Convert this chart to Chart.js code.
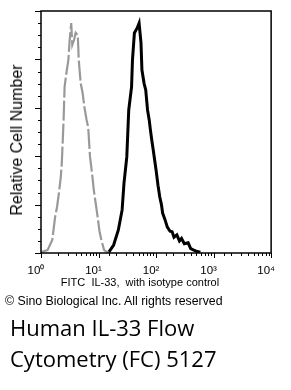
<!DOCTYPE html>
<html lang="en">
<head>
    <meta charset="UTF-8">
    <title>Human IL-33 Flow Cytometry</title>
    <style>
        body { margin: 0; background: #fff; width: 291px; height: 390px; position: relative; overflow: hidden; }
        #wrap { position: absolute; left: 0; top: 0; width: 291px; height: 292px; }
        .txt { position: absolute; font-family: Arial, 'Liberation Sans', sans-serif; color: #000; white-space: nowrap; }
        #ytitle { font-size: 16px; left: 17px; top: 140px; transform: translate(-50%, -50%) rotate(-90deg); }
        #xtitle { font-size: 11px; left: 140px; top: 282px; transform: translate(-50%, -50%); }
        #copy { font-size: 12.3px; left: 5px; top: 294px; color: #000; }
        #title { position: absolute; left: 10px; top: 312px; font-family: 'Open Sans', sans-serif; font-size: 22px; line-height: 31px; color: #000; white-space: nowrap; }
    </style>
</head>
<body>
<div id="wrap"><canvas id="myChart" width="291" height="292"></canvas></div>
<div class="txt" id="ytitle">Relative Cell Number</div>
<div class="txt" id="xtitle">FITC&nbsp; IL-33,&nbsp; with isotype control</div>
<div class="txt" id="copy">© Sino Biological Inc. All rights reserved</div>
<div id="title">Human IL-33 Flow<br>Cytometry (FC) 5127</div>

<script src="https://cdn.jsdelivr.net/npm/chart.js"></script>
<script>
    // isotype control (grey)
    const isoX = [1.0, 1.3, 1.57, 1.76, 1.9, 2.05, 2.2, 2.3, 2.47, 2.57, 2.75, 2.99, 3.15, 3.35, 3.5, 3.75, 4.0, 4.36, 4.53, 4.89, 5.3, 5.68, 6.2, 6.61, 7.11, 7.7, 8.28, 9.0, 9.64, 10.4, 11.2, 12.5, 15.1];
    const isoY = [0.4, 1.2, 5.4, 14.9, 19, 24.8, 31, 37.2, 55, 68.6, 74, 79.8, 88, 95, 86, 88, 91, 90, 79.8, 70.2, 66, 60.3, 55, 52, 39.7, 33, 26, 20, 14.9, 9, 5.4, 1.2, 0];

    // IL-33 stained (black)
    const il33X = [15.1, 18.3, 22.1, 25.7, 27.7, 31.0, 33.5, 37.5, 38.9, 42.0, 47.0, 50.7, 54.7, 56.8, 62, 66.1, 71.1, 76, 79.8, 85, 89.3, 95, 100, 108, 116, 124, 130, 142, 157, 175, 190, 205, 230, 255, 277, 310, 361, 400, 453, 520, 589];
    const il33Y = [0.4, 3.3, 9.5, 17.8, 28.9, 39.7, 59.1, 68.6, 79.8, 90.9, 93, 95, 86.8, 75.6, 70, 67.4, 59.1, 55, 50.8, 46, 42.6, 38, 34.3, 28, 23.1, 20, 16.5, 14, 10.7, 9, 8.8, 6.5, 7.5, 5, 6, 3.8, 4.2, 1.8, 1.2, 0.6, 0.3];

    const xTickLabels = ['10⁰', '10¹', '10²', '10³', '10⁴'];

    function pts(xs, ys) {
        return xs.map((x, i) => ({ x: x, y: ys[i] }));
    }

    // frame + tick marks (ticks point outward, majors longer)
    const framePlugin = {
        id: 'frame',
        afterDatasetsDraw(chart) {
            const ctx = chart.ctx;
            const a = chart.chartArea;
            const xs = chart.scales.x, ys = chart.scales.y;
            ctx.save();
            ctx.strokeStyle = '#000';
            ctx.lineWidth = 1.5;
            ctx.strokeRect(a.left, a.top, a.right - a.left, a.bottom - a.top);
            ctx.lineWidth = 1;
            ctx.beginPath();
            ys.ticks.forEach(t => {
                const py = Math.round(ys.getPixelForValue(t.value)) + 0.5;
                const len = (t.value % 20 === 0) ? 6 : 3;
                ctx.moveTo(a.left - len, py);
                ctx.lineTo(a.left, py);
            });
            xs.ticks.forEach(t => {
                const px = Math.round(xs.getPixelForValue(t.value)) + 0.5;
                const lg = Math.log10(t.value);
                const len = (Math.abs(lg - Math.round(lg)) < 1e-9) ? 5 : 3;
                ctx.moveTo(px, a.bottom);
                ctx.lineTo(px, a.bottom + len);
            });
            ctx.stroke();
            ctx.restore();
        }
    };

    const ctx = document.getElementById('myChart');
    new Chart(ctx, {
        type: 'line',
        data: {
            datasets: [{
                label: 'isotype',
                data: pts(isoX, isoY),
                borderColor: '#999999',
                borderWidth: 2.2,
                borderDash: [20, 3],
                pointRadius: 0,
                tension: 0
            }, {
                label: 'IL-33',
                data: pts(il33X, il33Y),
                borderColor: '#000000',
                borderWidth: 3,
                pointRadius: 0,
                tension: 0
            }]
        },
        options: {
            responsive: false,
            animation: false,
            devicePixelRatio: 1,
            layout: { padding: { left: 0, top: 11, right: 6, bottom: 0 } },
            plugins: { legend: { display: false }, tooltip: { enabled: false } },
            scales: {
                x: {
                    type: 'logarithmic',
                    min: 1,
                    max: 10000,
                    grid: { display: false, drawTicks: false },
                    border: { display: false },
                    afterFit(scale) { scale.height = 39; },
                    ticks: {
                        autoSkip: false,
                        maxRotation: 0,
                        padding: 11,
                        labelOffset: -5,
                        color: '#000',
                        font: { family: 'Arial, Liberation Sans', size: 11.5 },
                        callback(v) {
                            const lg = Math.log10(v);
                            if (Math.abs(lg - Math.round(lg)) < 1e-9) return xTickLabels[Math.round(lg)];
                            return '';
                        }
                    }
                },
                y: {
                    min: 0,
                    max: 100,
                    grid: { display: false, drawTicks: false },
                    border: { display: false },
                    afterFit(scale) { scale.width = 41; },
                    ticks: { stepSize: 5, display: false }
                }
            }
        },
        plugins: [framePlugin]
    });
</script>
</body>
</html>
